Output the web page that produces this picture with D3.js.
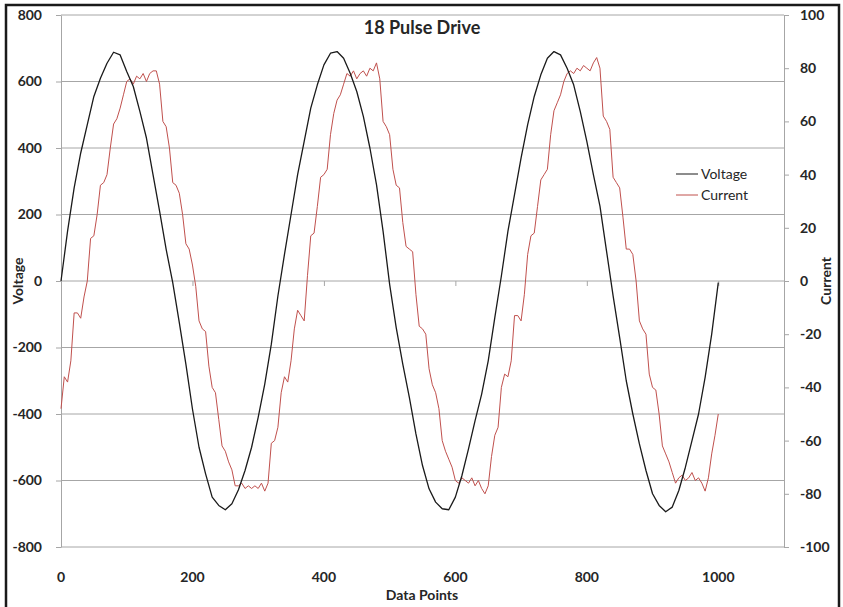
<!DOCTYPE html>
<html>
<head>
<meta charset="utf-8">
<script src="https://cdn.jsdelivr.net/npm/d3@7"></script>
<style>
  body { margin: 0; background: #fff; }
  svg text { font-family: Lato, "Open Sans", sans-serif; }
  .axis text { font-size: 14px; font-weight: bold; fill: #262626; }
  .axis line { stroke: #a6a6a6; }
  .axis path { stroke: #a6a6a6; }
</style>
</head>
<body>
<div id="chart"></div>
<script>
// sample spacing of the arrays below, in data points
var voltageStep = 10, currentStep = 5;

// Voltage, every 10 points (0..1000)
var voltage = [
  0, 150, 280, 385, 470, 555, 610, 655, 688, 680,
  630, 585, 510, 430, 320, 210, 95, -5, -125, -250,
  -385, -500, -580, -650, -675, -688, -670, -628, -570, -500,
  -410, -310, -190, -45, 80, 200, 320, 420, 520, 590,
  650, 685, 690, 670, 625, 570, 495, 400, 290, 150,
  -10, -140, -250, -350, -460, -555, -625, -665, -685, -688,
  -650, -585, -505, -420, -340, -240, -110, 15, 150, 260,
  370, 470, 555, 620, 670, 690, 680, 640, 590, 510,
  420, 320, 225, 90, -45, -170, -300, -400, -490, -570,
  -640, -675, -694, -680, -630, -560, -480, -400, -290, -160,
  -5
];

// Current, every 5 points (0..1000)
var current = [
  -48, -36, -38, -30, -12, -12, -14, -6, 0, 16,
  17, 25, 36, 37, 40, 50, 59, 61, 65, 70,
  75, 76, 74, 77, 76, 78, 75, 78, 79, 79,
  74, 60, 58, 50, 37, 36, 33, 25, 14, 12,
  6, -2, -15, -18, -19, -32, -40, -42, -52, -62,
  -64, -68, -71, -77, -77, -76, -78, -77, -78, -77,
  -78, -76, -79, -76, -61, -60, -55, -42, -36, -38,
  -30, -18, -11, -13, -15, 2, 17, 18, 28, 39,
  40, 42, 55, 63, 68, 70, 74, 78, 77, 79,
  76, 78, 79, 77, 80, 79, 82, 76, 60, 58,
  55, 42, 36, 35, 22, 13, 12, 11, -5, -17,
  -18, -20, -33, -39, -42, -48, -60, -64, -67, -70,
  -75, -76, -74, -75, -76, -74, -77, -75, -78, -80,
  -77, -66, -58, -55, -40, -35, -36, -30, -13, -13,
  -15, -5, 10, 17, 18, 28, 38, 40, 42, 55,
  64, 67, 70, 75, 78, 79, 78, 80, 79, 81,
  80, 79, 82, 84, 80, 62, 60, 57, 39, 37,
  35, 24, 12, 12, 10, 0, -15, -18, -20, -35,
  -40, -41, -50, -62, -65, -68, -72, -76, -74, -73,
  -75, -74, -72, -75, -74, -76, -79, -74, -65, -58,
  -50
];

var xTicks = [0, 200, 400, 600, 800, 1000];
var voltageTicks = [-800, -600, -400, -200, 0, 200, 400, 600, 800];
var currentTicks = [-100, -80, -60, -40, -20, 0, 20, 40, 60, 80, 100];
var seriesNames = ["Voltage", "Current"];
var seriesColors = ["#1a1a1a", "#c0504d"];

var w = 843, h = 607;
var plotLeft = 61, plotRight = 784, plotTop = 15, plotBottom = 547;

// plain hyphen minus like the original
var fmt = function(d) { return String(d); };

var svg = d3.select("#chart").append("svg")
    .attr("width", w).attr("height", h);

// chart frame
svg.append("rect")
    .attr("x", 6).attr("y", 5)
    .attr("width", 833).attr("height", 610)
    .attr("fill", "none").attr("stroke", "#1a1a1a").attr("stroke-width", 2.5);

var x = d3.scaleLinear().domain([0, 1100]).range([plotLeft, plotRight]);
var yV = d3.scaleLinear().domain([-800, 800]).range([plotBottom, plotTop]);
var yC = d3.scaleLinear().domain([-100, 100]).range([plotBottom, plotTop]);

// gridlines
svg.append("g").selectAll("line")
    .data(voltageTicks)
    .enter().append("line")
    .attr("x1", plotLeft).attr("x2", plotRight)
    .attr("y1", function(d) { return yV(d); })
    .attr("y2", function(d) { return yV(d); })
    .attr("stroke", "#a6a6a6").attr("stroke-width", 1);

// left axis
var leftAxis = svg.append("g")
    .attr("class", "axis")
    .attr("transform", "translate(" + plotLeft + ",0)")
    .call(d3.axisLeft(yV).tickValues(voltageTicks).tickFormat(fmt).tickSize(5).tickSizeOuter(0).tickPadding(14));
leftAxis.select(".domain").attr("stroke", "#bfbfbf");

// right axis
svg.append("g")
    .attr("class", "axis")
    .attr("transform", "translate(" + plotRight + ",0)")
    .call(d3.axisRight(yC).tickValues(currentTicks).tickFormat(fmt).tickSize(5).tickSizeOuter(0).tickPadding(11));

// x axis: ticks hang from the zero line, labels at the bottom
svg.append("g")
    .attr("class", "axis")
    .attr("transform", "translate(0," + yV(0) + ")")
    .call(d3.axisBottom(x).tickValues(xTicks).tickSize(5).tickFormat(""))
    .select(".domain").remove();

svg.append("g")
    .attr("class", "axis")
    .selectAll("text")
    .data(xTicks)
    .enter().append("text")
    .attr("x", function(d) { return x(d); })
    .attr("y", 582)
    .attr("text-anchor", "middle")
    .text(fmt);

// lines
var vLine = d3.line()
    .x(function(d, i) { return x(i * voltageStep); })
    .y(function(d) { return yV(d); });
var cLine = d3.line()
    .x(function(d, i) { return x(i * currentStep); })
    .y(function(d) { return yC(d); });

svg.append("path")
    .datum(current)
    .attr("d", cLine)
    .attr("fill", "none")
    .attr("stroke", seriesColors[1])
    .attr("stroke-width", 1)
    .attr("stroke-linejoin", "round");

svg.append("path")
    .datum(voltage)
    .attr("d", vLine)
    .attr("fill", "none")
    .attr("stroke", seriesColors[0])
    .attr("stroke-width", 1.3)
    .attr("stroke-linejoin", "round");

// titles
svg.append("text")
    .attr("x", 422).attr("y", 34)
    .attr("text-anchor", "middle")
    .attr("font-size", 18).attr("font-weight", "bold").attr("fill", "#262626")
    .text("18 Pulse Drive");

svg.append("text")
    .attr("x", 422).attr("y", 600)
    .attr("text-anchor", "middle")
    .attr("font-size", 14).attr("font-weight", "bold").attr("fill", "#262626")
    .text("Data Points");

svg.append("text")
    .attr("transform", "translate(23,281) rotate(-90)")
    .attr("text-anchor", "middle")
    .attr("font-size", 14).attr("font-weight", "bold").attr("fill", "#262626")
    .text("Voltage");

svg.append("text")
    .attr("transform", "translate(831,281) rotate(-90)")
    .attr("text-anchor", "middle")
    .attr("font-size", 14).attr("font-weight", "bold").attr("fill", "#262626")
    .text("Current");

// legend
var legend = svg.append("g").selectAll("g")
    .data(seriesNames)
    .enter().append("g")
    .attr("transform", function(d, i) { return "translate(676," + (174 + i * 21) + ")"; });
legend.append("line")
    .attr("x1", 0).attr("x2", 22)
    .attr("stroke", function(d, i) { return seriesColors[i]; })
    .attr("stroke-width", 1);
legend.append("text")
    .attr("x", 25).attr("y", 5)
    .attr("font-size", 14).attr("fill", "#262626")
    .text(function(d) { return d; });
</script>
</body>
</html>
